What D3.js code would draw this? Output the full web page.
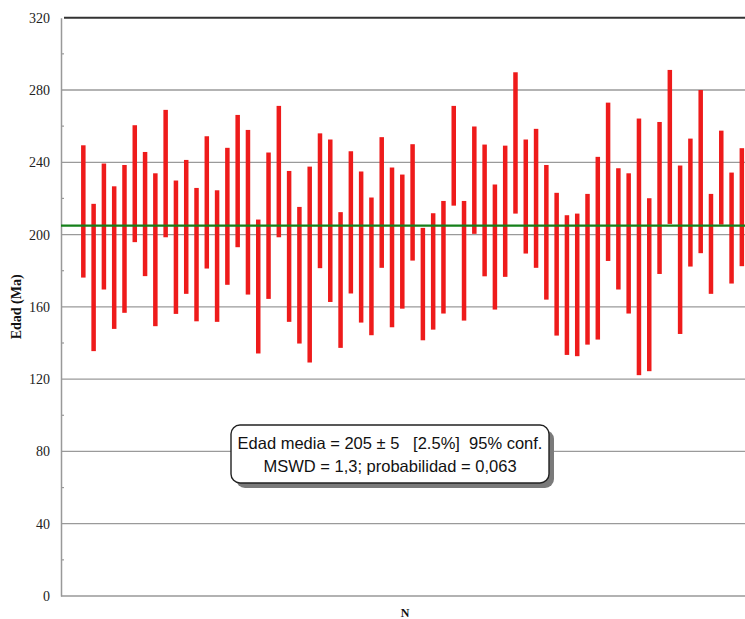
<!DOCTYPE html>
<html>
<head>
<meta charset="utf-8">
<script src="https://d3js.org/d3.v7.min.js"></script>
<style>
  body { margin: 0; background: #fff; }
  svg { display: block; }
</style>
</head>
<body>
<script>
// bar tops / bottoms (Ma)
const highs = [249.4, 217, 239.3, 226.7, 238.5, 260.5, 245.7, 233.9, 269, 229.9,
  241.3, 225.8, 254.4, 224.5, 248, 266.2, 257.9, 208.3, 245.4, 271.2,
  235.2, 215.3, 237.6, 256, 252.6, 212.4, 246.1, 234.9, 220.5, 253.9,
  237.1, 233.2, 250, 203.7, 211.8, 218.6, 271.2, 218.6, 259.8, 249.8,
  227.7, 249.2, 289.8, 252.6, 258.5, 238.5, 223.1, 210.7, 211.6, 222.5,
  243, 273, 236.7, 233.9, 264.2, 220.1, 262.3, 291.1, 238.2, 253.1,
  280, 222.5, 257.5, 234.3, 247.8];
const lows = [176.2, 135.5, 169.6, 147.8, 156.7, 195.8, 177, 149.3, 198.5, 156.1,
  167.2, 152, 181.2, 151.7, 172.2, 193, 166.8, 134.2, 164.4, 198.5,
  151.7, 139.7, 129.2, 181.4, 162.7, 137.3, 167.4, 151.3, 144.3, 181.6,
  148.7, 159, 185.6, 141.5, 147.4, 156.3, 216, 152.4, 200.4, 176.9,
  158.5, 176.6, 211.6, 189.5, 181.6, 164, 144.1, 133.4, 132.7, 139.1,
  141.9, 185.4, 169.6, 156.3, 122.2, 124.4, 178.2, 205.9, 145, 182.3,
  189.7, 167.2, 205.5, 172.9, 182.5];
const meanAge = 205;
const yTicks = [0, 40, 80, 120, 160, 200, 240, 280, 320];
const yMinor = [20, 60, 100, 140, 180, 220, 260, 300];
const boxLines = ["Edad media = 205 \u00b1 5   [2.5%]  95% conf.",
                  "MSWD = 1,3; probabilidad = 0,063"];

const W = 745, H = 619;
const plotL = 61, plotR = 765, plotT = 17.7, plotB = 596;
const serif = "'Liberation Serif', 'Times New Roman', serif";

const svg = d3.select("body").append("svg").attr("width", W).attr("height", H);

const y = d3.scaleLinear().domain([0, 320]).range([plotB, plotT]);
const x = d3.scaleLinear().domain([-1.17, 67.25]).range([plotL, plotR]);

// gridlines
svg.append("g").selectAll("line")
  .data(yTicks.filter(d => d > 0 && d < 320))
  .join("line")
  .attr("x1", plotL).attr("x2", W)
  .attr("y1", d => y(d)).attr("y2", d => y(d))
  .attr("stroke", "#9a9a9a").attr("stroke-width", 1.3);

// top border
svg.append("line")
  .attr("x1", plotL + 3).attr("x2", W)
  .attr("y1", y(320)).attr("y2", y(320))
  .attr("stroke", "#333").attr("stroke-width", 2);

// axes
const yAxis = d3.axisLeft(y).tickValues(yTicks).tickSize(0).tickPadding(11);
const gy = svg.append("g").attr("transform", `translate(${plotL},0)`).call(yAxis);
gy.attr("font-family", null).attr("font-size", null);
gy.select(".domain").attr("stroke", "#999").attr("stroke-width", 1.5);
gy.selectAll("text")
  .style("font-family", serif)
  .style("font-size", "14px").attr("fill", "#222");

svg.append("g").selectAll("line")
  .data(yMinor).join("line")
  .attr("x1", plotL).attr("x2", plotL + 3)
  .attr("y1", d => y(d)).attr("y2", d => y(d))
  .attr("stroke", "#999").attr("stroke-width", 1.2);

svg.append("line")
  .attr("x1", plotL).attr("x2", W)
  .attr("y1", plotB).attr("y2", plotB)
  .attr("stroke", "#999").attr("stroke-width", 1.5);

// error bars
svg.append("g").selectAll("rect")
  .data(highs.map((h, i) => ({i: i + 1, hi: h, lo: lows[i]})))
  .join("rect")
  .attr("x", d => x(d.i) - 2.25)
  .attr("width", 4.5)
  .attr("y", d => y(d.hi))
  .attr("height", d => y(d.lo) - y(d.hi))
  .attr("fill", "#ee1b1b");

// weighted mean
svg.append("line")
  .attr("x1", plotL).attr("x2", W)
  .attr("y1", y(meanAge)).attr("y2", y(meanAge))
  .attr("stroke", "#15801a").attr("stroke-width", 2.2);

// axis titles
svg.append("text")
  .attr("transform", `translate(21,${(plotT + plotB) / 2}) rotate(-90)`)
  .attr("text-anchor", "middle")
  .style("font-family", serif)
  .attr("font-weight", "bold").attr("font-size", 14).attr("fill", "#111")
  .text("Edad (Ma)");

svg.append("text")
  .attr("x", 405).attr("y", 617)
  .attr("text-anchor", "middle")
  .style("font-family", serif)
  .attr("font-weight", "bold").attr("font-size", 12).attr("fill", "#111")
  .text("N");

// result box
const bx = 231, by = 425, bw = 318, bh = 58;
svg.append("rect")
  .attr("x", bx + 5).attr("y", by + 5).attr("width", bw).attr("height", bh)
  .attr("rx", 9).attr("fill", "#7a7a7a");
svg.append("rect")
  .attr("x", bx).attr("y", by).attr("width", bw).attr("height", bh)
  .attr("rx", 9).attr("fill", "#fff")
  .attr("stroke", "#222").attr("stroke-width", 1.4);
svg.append("g").selectAll("text")
  .data(boxLines).join("text")
  .attr("x", bx + bw / 2)
  .attr("y", (d, i) => by + 24 + i * 23)
  .attr("text-anchor", "middle")
  .attr("font-family", "Liberation Sans, Arial, sans-serif")
  .attr("font-size", 16.5).attr("fill", "#111")
  .style("white-space", "pre")
  .text(d => d);
</script>
</body>
</html>
